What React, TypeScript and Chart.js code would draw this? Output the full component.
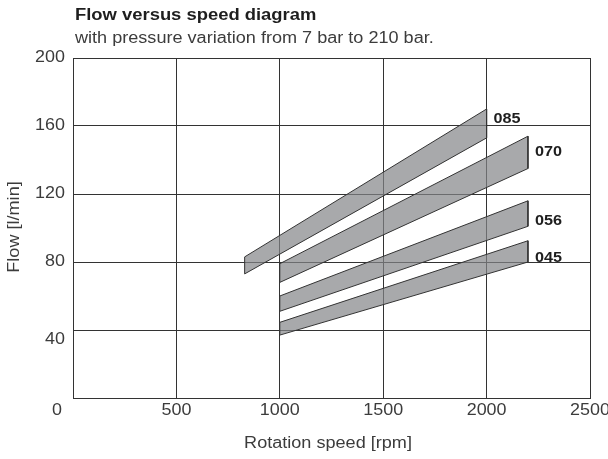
import React, { useEffect, useRef } from "react";
import { Chart, registerables } from "chart.js";

Chart.register(...registerables);

const speedTicks = [0, 500, 1000, 1500, 2000, 2500];
const flowTicks = [0, 40, 80, 120, 160, 200];
const seriesNames = ["085", "070", "056", "045"];
const startSpeed = [830, 1000, 1000, 1000];
const endSpeed = [2000, 2200, 2200, 2200];
const upperStart = [83, 79, 60, 44.5];
const upperEnd = [170, 154, 116, 92.5];
const lowerStart = [73, 68, 51, 37];
const lowerEnd = [153, 135, 101, 80];
const labelFlow = [164, 145, 104, 82.5];

const FONT = '"Liberation Sans", Arial, Helvetica, sans-serif';

function drawText(ctx: any, text: string, x: number, y: number, font: string, color: string, align: string, sx: number) {
  ctx.save();
  ctx.font = font;
  ctx.fillStyle = color;
  ctx.textAlign = align;
  ctx.textBaseline = "middle";
  ctx.translate(x, y);
  ctx.scale(sx, 1);
  ctx.fillText(text, 0, 0);
  ctx.restore();
}

const textPlugin = {
  id: "textPlugin",
  afterDraw(chart: any) {
    const ctx = chart.ctx;
    const xs = chart.scales.x;
    const ys = chart.scales.y;
    const area = chart.chartArea;
    const reg = `16px ${FONT}`;
    const grey = "#3c3c3c";
    // titles
    drawText(ctx, "Flow versus speed diagram", 75, 16, `bold 16px ${FONT}`, "#1e1e1e", "left", 1.15);
    drawText(ctx, "with pressure variation from 7 bar to 210 bar.", 75, 39, reg, grey, "left", 1.13);

    // y tick labels
    flowTicks.forEach((v) => {
      if (v === 0) return;
      const off = v === 40 ? 10 : 0;
      drawText(ctx, String(v), area.left - 8, ys.getPixelForValue(v) + off, reg, grey, "right", 1.12);
    });
    // x tick labels
    speedTicks.forEach((v) => {
      const off = v === 0 ? -16 : 0;
      drawText(ctx, String(v), xs.getPixelForValue(v) + off, 411, reg, grey, "center", 1.12);
    });
    // axis titles
    drawText(ctx, "Rotation speed [rpm]", 328, 444, reg, grey, "center", 1.13);
    ctx.save();
    ctx.translate(15, 227);
    ctx.rotate(-Math.PI / 2);
    drawText(ctx, "Flow [l/min]", 0, 0, reg, grey, "center", 1.13);
    ctx.restore();

    // band labels
    seriesNames.forEach((n, i) => {
      drawText(ctx, n, xs.getPixelForValue(endSpeed[i]) + 7, ys.getPixelForValue(labelFlow[i]), `bold 15px ${FONT}`, "#1e1e1e", "left", 1.08);
    });
  },
};

export default function App() {
  const ref = useRef<HTMLCanvasElement>(null);
  useEffect(() => {
    if (!ref.current) return;
    const datasets = seriesNames.map((n, i) => ({
      label: n,
      data: [
        { x: startSpeed[i], y: lowerStart[i] },
        { x: startSpeed[i], y: upperStart[i] },
        { x: endSpeed[i], y: upperEnd[i] },
        { x: endSpeed[i], y: lowerEnd[i] },
        { x: startSpeed[i], y: lowerStart[i] },
      ],
      showLine: true,
      fill: "shape",
      backgroundColor: "rgba(131,132,136,0.7)",
      borderColor: "#333333",
      borderWidth: 1,
      pointRadius: 0,
      tension: 0,
    }));
    const chart = new Chart(ref.current, {
      type: "scatter",
      data: { datasets: datasets as any },
      options: {
        animation: false,
        responsive: false,
        layout: { padding: { left: 73, right: 18, top: 58, bottom: 61 } },
        plugins: { legend: { display: false }, tooltip: { enabled: false }, title: { display: false } },
        scales: {
          x: {
            type: "linear",
            min: 0,
            max: 2500,
            ticks: { display: false, stepSize: 500 },
            grid: { color: "#333333", lineWidth: 1, drawTicks: false },
            border: { color: "#333333", width: 1 },
          },
          y: {
            type: "linear",
            min: 0,
            max: 200,
            ticks: { display: false, stepSize: 40 },
            grid: { color: "#333333", lineWidth: 1, drawTicks: false },
            border: { color: "#333333", width: 1 },
          },
        },
      },
      plugins: [textPlugin],
    });
    return () => chart.destroy();
  }, []);
  return (
    <div style={{ position: "absolute", left: 0, top: 0, width: 608, height: 459, background: "#fff" }}>
      <canvas ref={ref} width={608} height={459} style={{ width: 608, height: 459 }} />
    </div>
  );
}
